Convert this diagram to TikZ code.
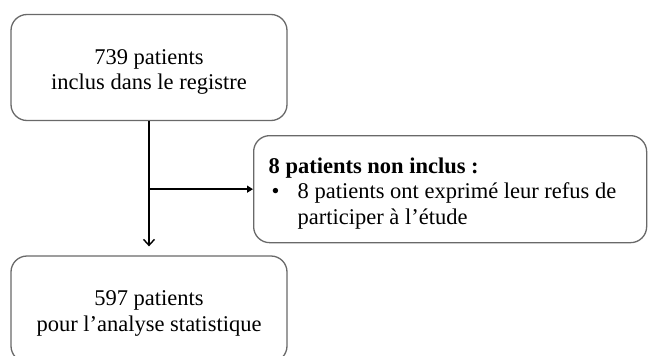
\documentclass[tikz,border=0pt]{standalone}
\usepackage{fontspec}
\setmainfont{Liberation Serif}
\usetikzlibrary{arrows.meta}
\definecolor{boxline}{RGB}{105,105,105}
\newcommand{\pushdown}{\rule{0pt}{24pt}}
\tikzset{
  box/.style={draw=boxline, line width=1.3pt, rounded corners=16pt, fill=white,
    font=\fontsize{22.5}{25.3}\selectfont, inner sep=0pt},
  conn/.style={draw=black, line width=1.4pt},
  downarrow/.style={conn, -{Straight Barb[length=6pt,width=11pt,line width=1.4pt]}},
  sidearrow/.style={conn, -{Triangle[length=6pt,width=7pt]}},
}
\begin{document}
\begin{tikzpicture}[x=1pt,y=-1pt]
\useasboundingbox (0,0) rectangle (648,356);
\clip (0,0) rectangle (648,356);
\fill[white] (0,0) rectangle (648,356);
\node[box, minimum width=276pt, minimum height=106pt, align=center] (top) at (149,67.5)
  {\pushdown 739 patients\\inclus dans le registre};
\node[box, minimum width=276pt, minimum height=106pt, align=center] (bot) at (149,309)
  {\pushdown 597 patients\\pour l’analyse statistique};
\node[box, anchor=north west, minimum width=393pt, minimum height=107pt,
      text width=363pt, inner xsep=15pt, align=flush left] (out) at (253,135)
  {\pushdown\textbf{8 patients non inclus :}\\
   \makebox[29pt][l]{\hspace{3pt}\textbullet}8 patients ont exprimé leur refus de\\
   \hspace*{29pt}participer à l’étude};
\coordinate (j) at (top.south |- out.west);
\draw[downarrow, shorten >=9pt] (top.south) -- (bot.north);
\draw[sidearrow] (j) -- (out.west);
\end{tikzpicture}
\end{document}
